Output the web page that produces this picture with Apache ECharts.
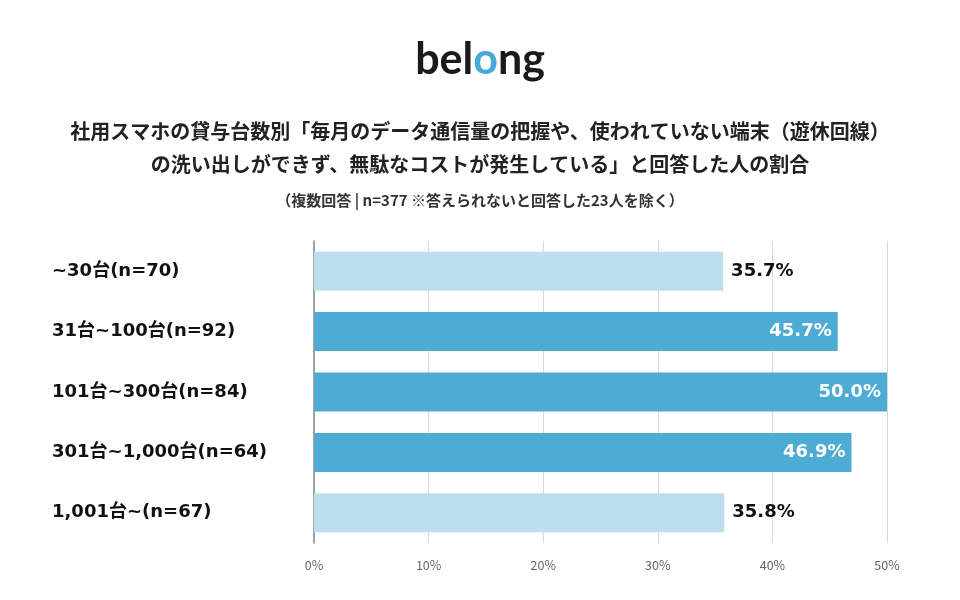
<!DOCTYPE html>
<html><head><meta charset="utf-8">
<script src="https://cdn.jsdelivr.net/npm/echarts@6/dist/echarts.min.js"></script>
<style>html,body{margin:0;padding:0;background:#fff}#c{width:960px;height:600px}</style>
</head><body><div id="c"></div>
<script>
const categories = ['~30台(n=70)', '31台~100台(n=92)', '101台~300台(n=84)', '301台~1,000台(n=64)', '1,001台~(n=67)'];
const values = [35.7, 45.7, 50.0, 46.9, 35.8];
const barColors = ['#bcdff0', '#4eabd3', '#4eabd3', '#4eabd3', '#bcdff0'];
const labelInside = [false, true, true, true, false];
const tickValues = [0, 10, 20, 30, 40, 50];
const titleLine1 = '社用スマホの貸与台数別「毎月のデータ通信量の把握や、使われていない端末（遊休回線）';
const titleLine2 = 'の洗い出しができず、無駄なコストが発生している」と回答した人の割合';
const subtitle = '（複数回答 | n=377 ※答えられないと回答した23人を除く）';

const font = '"Noto Sans CJK JP", sans-serif';
const labelFont = '"DejaVu Sans", "Noto Sans CJK JP", sans-serif';
const chart = echarts.init(document.getElementById('c'));
chart.setOption({
  backgroundColor: '#fff',
  animation: false,
  title: [
    { text: '{a|bel}{b|o}{a|ng}', left: 'center', top: 34,
      textStyle: { rich: {
        a: { fontSize: 43, fontWeight: 'bold', color: '#1a1a1a', fontFamily: '"Lato", sans-serif' },
        b: { fontSize: 43, fontWeight: 'bold', color: '#4aa9d4', fontFamily: '"Lato", sans-serif' } } } },
    { text: titleLine1, left: 'center', top: 116, textStyle: { fontSize: 20, fontWeight: 'bold', color: '#222', fontFamily: font } },
    { text: titleLine2, left: 'center', top: 149, textStyle: { fontSize: 20, fontWeight: 'bold', color: '#222', fontFamily: font } },
    { text: subtitle, left: 'center', top: 188, textStyle: { fontSize: 15, fontWeight: 'bold', color: '#333', fontFamily: font } }
  ],
  grid: { left: 314, right: 73, top: 241, height: 302 },
  xAxis: {
    type: 'value', min: 0, max: 50, interval: 10,
    axisLine: { show: false }, axisTick: { show: false },
    splitLine: { lineStyle: { color: '#d9d9d9', width: 1 } },
    axisLabel: { formatter: v => v + '%', color: '#666', fontSize: 12.5, margin: 16, fontFamily: font }
  },
  yAxis: {
    type: 'category', data: categories, inverse: true,
    axisLine: { show: true, lineStyle: { color: '#888', width: 1.5 } },
    axisTick: { show: false },
    axisLabel: { align: 'left', margin: 262, fontSize: 18, fontWeight: 'bold', color: '#111', fontFamily: labelFont }
  },
  series: [{
    type: 'bar', barWidth: 39,
    data: values.map((v, i) => ({
      value: v,
      itemStyle: { color: barColors[i] },
      label: labelInside[i]
        ? { show: true, position: 'insideRight', distance: 6, color: '#fff' }
        : { show: true, position: 'right', distance: 8, color: '#111' }
    })),
    label: { formatter: p => p.value.toFixed(1) + '%', fontSize: 18, fontWeight: 'bold', fontFamily: labelFont }
  }]
});
</script></body></html>
